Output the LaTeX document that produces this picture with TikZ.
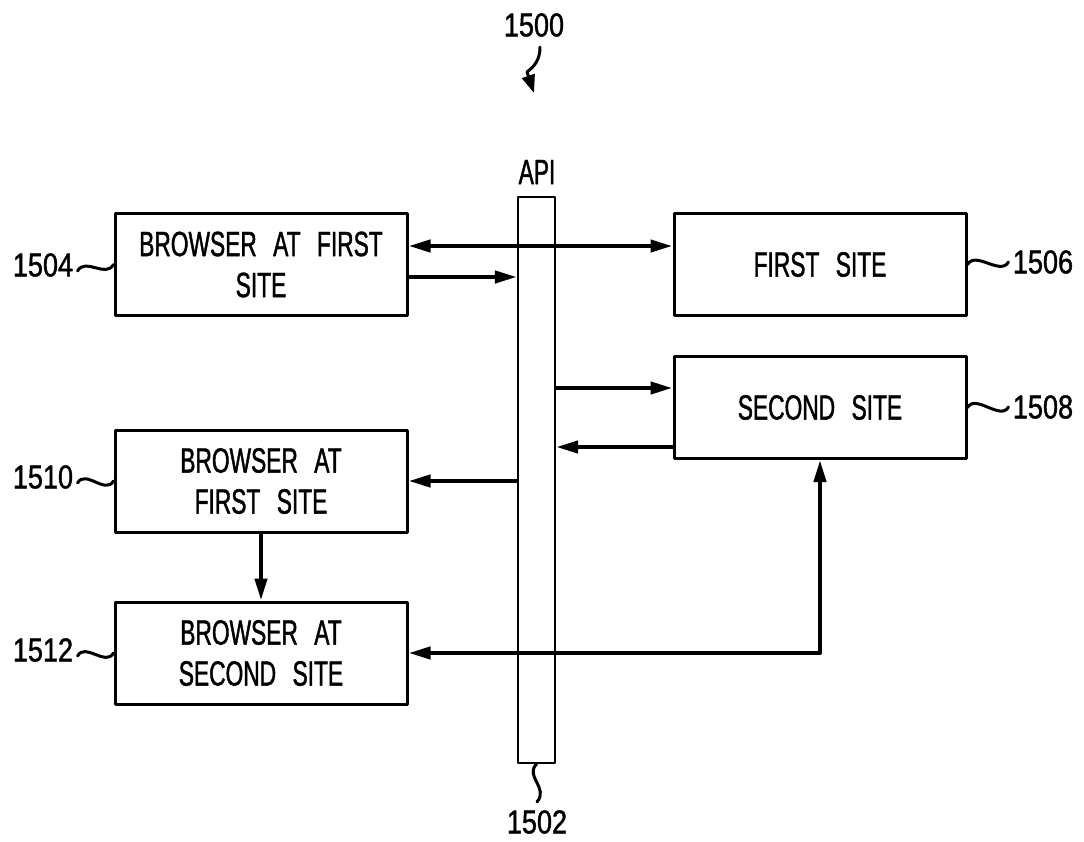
\documentclass[tikz,border=0pt]{standalone}
\usepackage{fontspec}
\setmainfont[FakeStretch=0.65,FakeBold=1.2,WordSpace=2.6]{Liberation Sans}
\newfontfamily\numfont[FakeStretch=0.82,FakeBold=1.2]{Liberation Sans}
\usetikzlibrary{arrows.meta}

\begin{document}
\begin{tikzpicture}[line cap=round,line join=round,>={Triangle[length=11pt,width=6pt]},x=0.5pt,y=-0.5pt,
  box/.style={draw,line width=1.5pt,minimum width=146pt,minimum height=51pt,inner sep=0pt,align=center,font=\fontsize{17.5}{20.5}\selectfont},
  bus/.style={draw,line width=1.1pt,minimum width=18.5pt,minimum height=283pt,inner sep=0pt},
  num/.style={font=\numfont\fontsize{16.5}{18}\selectfont,inner sep=0pt},
  flow/.style={line width=2.1pt},
  lead/.style={line width=1.5pt}]
\useasboundingbox (0,0) rectangle (1084,842);
% bus and blocks
\node[bus] (api) at (536.5,480) {};
\node[font=\fontsize{17.5}{20.5}\selectfont] (apil) at (537,172) {API};
\node[box] (b1504) at (261,264.5) {BROWSER AT FIRST\\SITE};
\node[box] (s1506) at (820,264.5) {FIRST SITE};
\node[box] (s1508) at (820,407.5) {SECOND SITE};
\node[box] (b1510) at (261,481) {BROWSER AT\\FIRST SITE};
\node[box] (b1512) at (261,653) {BROWSER AT\\SECOND SITE};
% reference numerals
\node[num] (l1500) at (534,25) {1500};
\node[num] (l1502) at (537,822) {1502};
\node[num] (l1504) at (43,265) {1504};
\node[num] (l1510) at (43,477) {1510};
\node[num] (l1512) at (43,650) {1512};
\node[num] (l1506) at (1043,262) {1506};
\node[num] (l1508) at (1043,407) {1508};
% lead lines
\draw[lead,-{Triangle[length=9pt,width=6.5pt]}] ([xshift=3pt,yshift=-5pt]l1500.south) .. controls +(0,12) and +(8,-6) .. (527,72) -- (534,93);
\draw[lead] (api.south) .. controls +(-12,12) and +(12,-14) .. ([yshift=4pt]l1502.north);
\draw[lead] ([xshift=2pt,yshift=-3pt]l1504.east) .. controls +(8,-14) and +(-8,14) .. (b1504.west);
\draw[lead] ([xshift=2pt,yshift=-3pt]l1510.east) .. controls +(8,-14) and +(-8,14) .. (b1510.west);
\draw[lead] ([xshift=2pt,yshift=-3pt]l1512.east) .. controls +(8,-14) and +(-8,14) .. (b1512.west);
\draw[lead] (s1506.east) .. controls +(8,-14) and +(-8,14) .. ([xshift=-2pt]l1506.west);
\draw[lead] (s1508.east) .. controls +(8,-14) and +(-8,14) .. ([xshift=-2pt]l1508.west);
% connectors
\coordinate (p1) at ([yshift=9.25pt]b1504.east);
\draw[flow,<->] (p1) -- (p1 -| s1506.west);
\coordinate (p2) at ([yshift=-6.25pt]b1504.east);
\draw[flow,->] (p2) -- (p2 -| api.west);
\coordinate (p3) at ([yshift=9.75pt]s1508.west);
\draw[flow,->] (p3 -| api.east) -- (p3);
\coordinate (p4) at ([yshift=-19.75pt]s1508.west);
\draw[flow,->] (p4) -- (p4 -| api.east);
\draw[flow,->] (api.west |- b1510.east) -- (b1510.east);
\draw[flow,->] (b1510.south) -- (b1512.north);
\draw[flow,<->] (b1512.east) -| (s1508.south);
\end{tikzpicture}
\end{document}
